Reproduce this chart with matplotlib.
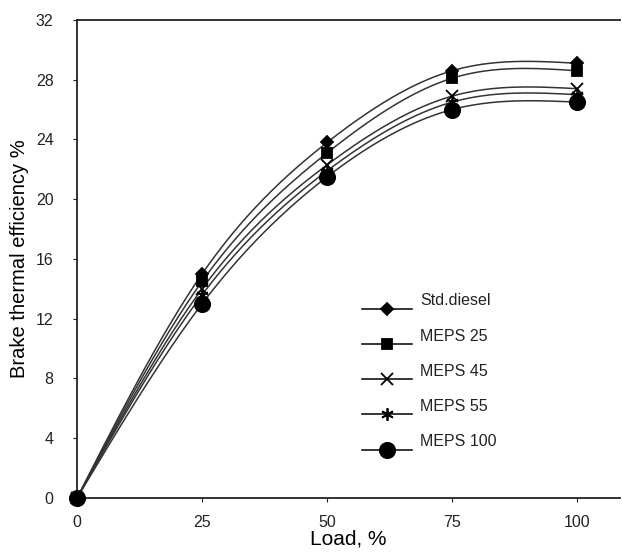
import numpy as np
import matplotlib
matplotlib.use("Agg")
import matplotlib.pyplot as plt

plt.rcParams['font.family'] = ['Liberation Sans', 'DejaVu Sans']

# data
load = [0, 25, 50, 75, 100]
std_diesel = [0, 15.0, 23.8, 28.6, 29.1]
meps25 = [0, 14.5, 23.1, 28.1, 28.6]
meps45 = [0, 14.0, 22.3, 26.9, 27.4]
meps55 = [0, 13.6, 21.9, 26.5, 27.0]
meps100 = [0, 13.0, 21.5, 26.0, 26.5]

labels = ["Std.diesel", "MEPS 25", "MEPS 45", "MEPS 55", "MEPS 100"]
series = [std_diesel, meps25, meps45, meps55, meps100]
markers = ["D", "s", "x", (6, 2, 0), "o"]
msizes = [6, 7, 9, 9, 11]


def spline(x, y, xs):
	# natural cubic spline, like the smooth curves in the original
	x = np.asarray(x, float)
	y = np.asarray(y, float)
	n = len(x)
	h = np.diff(x)
	A = np.zeros((n, n))
	b = np.zeros(n)
	A[0, 0] = 1
	A[-1, -1] = 1
	for i in range(1, n - 1):
		A[i, i - 1] = h[i - 1]
		A[i, i] = 2 * (h[i - 1] + h[i])
		A[i, i + 1] = h[i]
		b[i] = 6 * ((y[i + 1] - y[i]) / h[i] - (y[i] - y[i - 1]) / h[i - 1])
	M = np.linalg.solve(A, b)
	out = np.zeros_like(xs)
	for k, t in enumerate(xs):
		i = min(np.searchsorted(x, t, side="right") - 1, n - 2)
		i = max(i, 0)
		a = x[i + 1] - t
		c = t - x[i]
		out[k] = (M[i] * a**3 + M[i + 1] * c**3) / (6 * h[i]) \
			+ (y[i] / h[i] - M[i] * h[i] / 6) * a \
			+ (y[i + 1] / h[i] - M[i + 1] * h[i] / 6) * c
	return out


fig = plt.figure(figsize=(6.22, 5.55), dpi=100)
ax = fig.add_axes([0.124, 0.103, 0.873, 0.861])

xs = np.linspace(0, 100, 300)
for y, m, ms in zip(series, markers, msizes):
	ax.plot(xs, spline(load, y, xs), color="#333333", lw=1.1)
	ax.plot(load, y, linestyle="none", marker=m, markersize=ms,
			color="black", markeredgewidth=1.3, clip_on=False, zorder=3)

# legend drawn by hand: line with marker in the middle, label a bit higher
for i, (lab, m, ms) in enumerate(zip(labels, markers, msizes)):
	yy = 0.395 - i * 0.0735
	ax.plot([0.525, 0.617], [yy, yy], color="black", lw=1.1,
			transform=ax.transAxes)
	ax.plot([0.571], [yy], marker=m, markersize=ms, color="black",
			markeredgewidth=1.3, transform=ax.transAxes)
	ax.text(0.632, yy + 0.017, lab, fontsize=11.5, va="center",
			color="#222222", transform=ax.transAxes)

ax.set_xlim(0, 108.6)
ax.set_ylim(0, 32)
ax.set_xticks([0, 25, 50, 75, 100])
ax.set_yticks(range(0, 33, 4))
ax.tick_params(direction="out", length=3, labelsize=11.5, colors="#222222")
ax.tick_params(axis="x", pad=9)
ax.tick_params(axis="y", pad=14)
ax.spines["right"].set_visible(False)
for s in ["left", "bottom", "top"]:
	ax.spines[s].set_linewidth(1.3)
	ax.spines[s].set_color("#222222")

ax.set_xlabel("Load, %", fontsize=15, labelpad=0)
ax.set_ylabel("Brake thermal efficiency %", fontsize=14.5, labelpad=5)

plt.savefig("out.png", dpi=100)
plt.close()
